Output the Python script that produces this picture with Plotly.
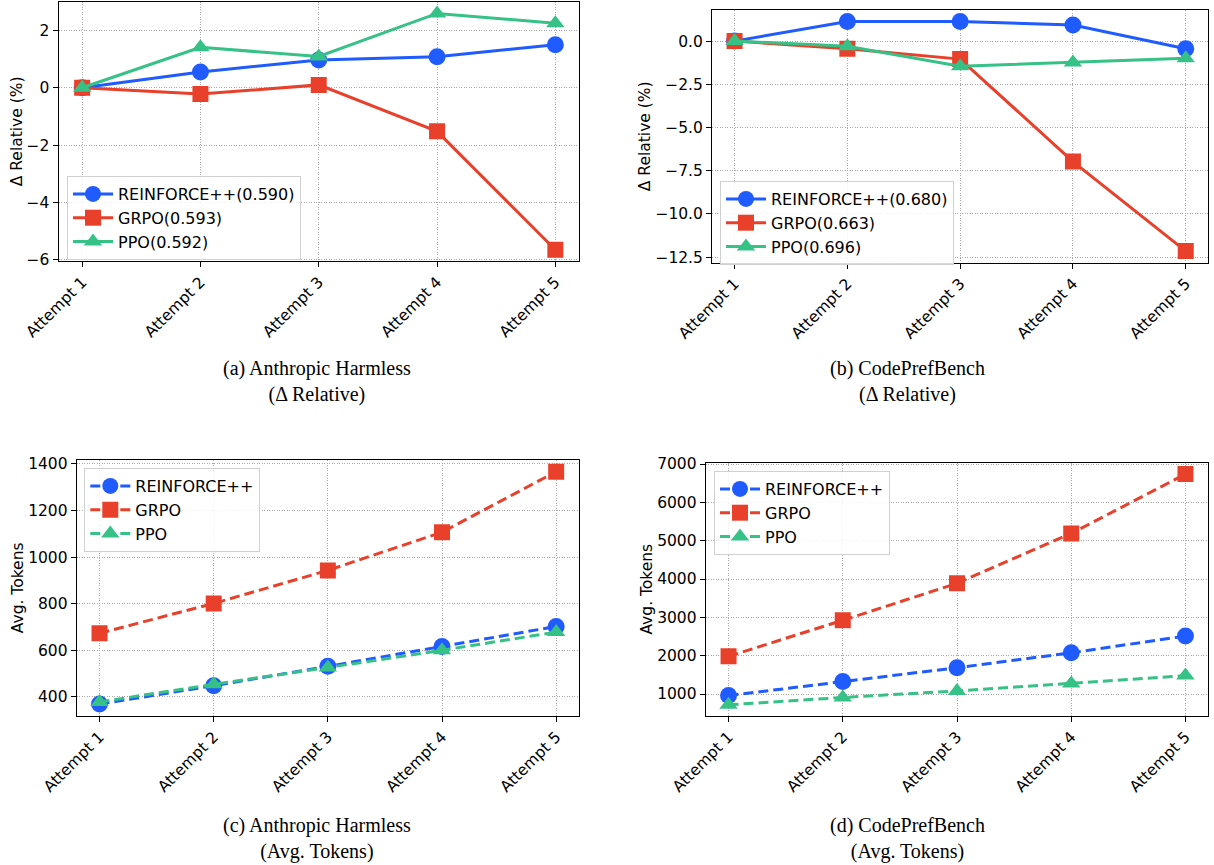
import plotly.graph_objects as go

attempts = ["Attempt 1", "Attempt 2", "Attempt 3", "Attempt 4", "Attempt 5"]

# (a) Anthropic Harmless, delta relative (%)
a_reinforce = [0.0, 0.55, 0.97, 1.08, 1.50]
a_grpo = [0.0, -0.22, 0.10, -1.52, -5.65]
a_ppo = [0.0, 1.41, 1.09, 2.59, 2.25]

# (b) CodePrefBench, delta relative (%)
b_reinforce = [0.0, 1.14, 1.14, 0.93, -0.44]
b_grpo = [0.0, -0.44, -1.04, -6.97, -12.15]
b_ppo = [0.0, -0.30, -1.45, -1.24, -0.99]

# (c) Anthropic Harmless, avg tokens
c_reinforce = [369, 448, 531, 616, 702]
c_grpo = [673, 801, 943, 1107, 1367]
c_ppo = [378, 454, 526, 600, 678]

# (d) CodePrefBench, avg tokens
d_reinforce = [960, 1328, 1686, 2076, 2512]
d_grpo = [1983, 2922, 3888, 5190, 6737]
d_ppo = [718, 910, 1080, 1275, 1480]

legend_top = ["REINFORCE++(0.590)", "GRPO(0.593)", "PPO(0.592)"]
legend_top_b = ["REINFORCE++(0.680)", "GRPO(0.663)", "PPO(0.696)"]
legend_bottom = ["REINFORCE++", "GRPO", "PPO"]

captions = [
    "(a) Anthropic Harmless<br>(Δ Relative)",
    "(b) CodePrefBench<br>(Δ Relative)",
    "(c) Anthropic Harmless<br>(Avg. Tokens)",
    "(d) CodePrefBench<br>(Avg. Tokens)",
]

BLUE = "#1f5bff"
RED = "#e8402a"
GREEN = "#36c186"
colors = [BLUE, RED, GREEN]
symbols = ["circle", "square", "triangle-up"]
msizes = [17, 16, 16]

W, H = 1214, 865

fig = go.Figure()

panels = [
    dict(series=[a_reinforce, a_grpo, a_ppo], names=legend_top, dash="solid",
         xd=(58.5, 579), yd=(1.7, 261), yr=(-6.04, 3.0), ytitle="Δ Relative (%)",
         dtick=2, fmt="", leg=(67, 176)),
    dict(series=[b_reinforce, b_grpo, b_ppo], names=legend_top_b, dash="solid",
         xd=(712, 1208.3), yd=(10, 262.5), yr=(-12.81, 1.80), ytitle="Δ Relative (%)",
         dtick=2.5, fmt=".1f", leg=(720, 181)),
    dict(series=[c_reinforce, c_grpo, c_ppo], names=legend_bottom, dash="10px,5px",
         xd=(76.7, 579), yd=(460, 715.7), yr=(319, 1417), ytitle="Avg. Tokens",
         dtick=200, fmt="d", leg=(84.3, 468)),
    dict(series=[d_reinforce, d_grpo, d_ppo], names=legend_bottom, dash="10px,5px",
         xd=(705.7, 1208.3), yd=(462.7, 715.7), yr=(434, 7035), ytitle="Avg. Tokens",
         dtick=1000, fmt="d", leg=(714, 471)),
]

layout = dict(
    width=W, height=H, margin=dict(l=0, r=0, t=0, b=0, autoexpand=False),
    paper_bgcolor="white", plot_bgcolor="white",
    font=dict(family="DejaVu Sans", size=15.5, color="black"),
)

for i, p in enumerate(panels):
    k = "" if i == 0 else str(i + 1)
    xa, ya = "x" + k, "y" + k
    lg = "legend" + k
    for s, name, c, sym, ms in zip(p["series"], p["names"], colors, symbols, msizes):
        fig.add_trace(go.Scatter(
            x=attempts, y=s, name=name, mode="lines+markers",
            line=dict(color=c, width=3, dash=p["dash"]),
            marker=dict(symbol=sym, size=ms, color=c),
            xaxis=xa, yaxis=ya, legend=lg,
        ))
    layout["xaxis" + k] = dict(
        domain=[p["xd"][0] / W, p["xd"][1] / W], anchor=ya, automargin=False,
        type="category", range=[-0.2, 4.2], tickangle=-45,
        showline=True, linecolor="black", linewidth=1, mirror=True,
        ticks="outside", ticklen=5, tickcolor="black",
        showgrid=True, gridcolor="#a8a8a8", griddash="1px,1.5px", gridwidth=1,
        tickfont=dict(size=15.5), zeroline=False,
    )
    layout["yaxis" + k] = dict(
        domain=[1 - p["yd"][1] / H, 1 - p["yd"][0] / H], anchor=xa, automargin=False,
        range=list(p["yr"]), dtick=p["dtick"], tickformat=p["fmt"],
        showline=True, linecolor="black", linewidth=1, mirror=True,
        ticks="outside", ticklen=5, tickcolor="black",
        showgrid=True, gridcolor="#a8a8a8", griddash="1px,1.5px", gridwidth=1,
        tickfont=dict(size=15.5), zeroline=False,
        title=dict(text=p["ytitle"], font=dict(size=15.5), standoff=0),
    )
    layout[lg] = dict(
        x=p["leg"][0] / W, y=1 - p["leg"][1] / H, xanchor="left", yanchor="top",
        bgcolor="rgba(255,255,255,0.85)", bordercolor="#d0d0d0", borderwidth=1,
        font=dict(size=16), tracegroupgap=0, itemwidth=40,
    )

fig.update_layout(**layout)

cap_pos = [(317, 381), (907, 381), (317, 838), (907, 838)]
for cap, (cx, cy) in zip(captions, cap_pos):
    fig.add_annotation(
        text=cap, x=cx / W, y=1 - cy / H, xref="paper", yref="paper",
        showarrow=False, xanchor="center", yanchor="middle",
        font=dict(family="Liberation Serif", size=20, color="black"),
    )

fig.write_html("out.html")
